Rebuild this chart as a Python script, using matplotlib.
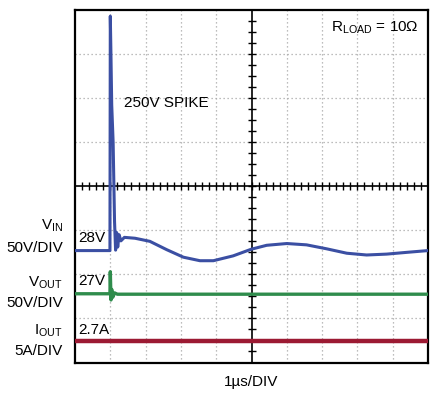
import numpy as np
import matplotlib.pyplot as plt

plt.rcParams['font.family'] = ['Liberation Sans', 'DejaVu Sans']
plt.rcParams['mathtext.fontset'] = 'custom'
plt.rcParams['mathtext.rm'] = 'Liberation Sans'
plt.rcParams['mathtext.it'] = 'Liberation Sans'

# time in divisions (1us/DIV), level in divisions from the bottom of the screen
vin_t = [0.0, 0.99, 1.0, 1.02, 1.04, 1.08, 1.12, 1.15, 1.18, 1.21, 1.25, 1.3, 1.4,
         1.7, 2.12, 2.6, 3.07, 3.54, 3.92, 4.48, 4.99, 5.43, 6.0, 6.56, 7.13,
         7.7, 8.26, 8.83, 9.4, 10.0]
vin_v = [2.54, 2.54, 7.86, 6.9, 5.85, 5.0, 3.2, 2.55, 2.95, 2.62, 2.9, 2.76, 2.84,
         2.82, 2.75, 2.56, 2.39, 2.31, 2.31, 2.42, 2.57, 2.66, 2.70, 2.67, 2.58,
         2.48, 2.44, 2.46, 2.50, 2.54]

vout_t = [0.0, 0.99, 1.0, 1.02, 1.04, 1.07, 1.12, 1.2, 10.0]
vout_v = [1.56, 1.56, 2.06, 1.42, 1.66, 1.48, 1.58, 1.55, 1.55]

iout_t = [0.0, 10.0]
iout_v = [0.48, 0.48]

c_vin = '#3b4fa3'
c_vout = '#2f8c4c'
c_iout = '#9c1a33'

fig = plt.figure(figsize=(4.31, 3.95), dpi=100)
ax = fig.add_axes([75 / 431, 1 - 362.5 / 395, 353 / 431, 352.5 / 395])
ax.set_xlim(0, 10)
ax.set_ylim(0, 8)
ax.set_xticks([])
ax.set_yticks([])
for s in ax.spines.values():
    s.set_linewidth(1.6)
    s.set_color('black')

# graticule
for gx in range(1, 10):
    if gx != 5:
        ax.axvline(gx, color='#a8a8a8', lw=0.9, ls=(0, (1, 2.2)), zorder=1)
for gy in range(1, 8):
    if gy != 4:
        ax.axhline(gy, color='#a8a8a8', lw=0.9, ls=(0, (1, 2.2)), zorder=1)
ax.axvline(5, color='black', lw=1.2, zorder=2)
ax.axhline(4, color='black', lw=1.2, zorder=2)
tx = np.arange(0.2, 10, 0.2)
ax.plot(tx, np.full(len(tx), 4.0), ls='none', marker='|', ms=6, mew=1.0, color='black', zorder=2)
ty = np.arange(0.25, 8, 0.25)
ax.plot(np.full(len(ty), 5.0), ty, ls='none', marker='_', ms=6, mew=1.0, color='black', zorder=2)

# traces
ax.plot(iout_t, iout_v, color=c_iout, lw=3.2, zorder=3)
ax.plot(vout_t, vout_v, color=c_vout, lw=2.4, zorder=3)
ax.plot(vin_t, vin_v, color=c_vin, lw=2.2, zorder=4)

fs = 11
ax.text(0.1, 2.82, '28V', fontsize=fs, va='center', ha='left')
ax.text(0.1, 1.85, '27V', fontsize=fs, va='center', ha='left')
ax.text(0.1, 0.74, '2.7A', fontsize=fs, va='center', ha='left')
ax.text(1.38, 5.9, '250V SPIKE', fontsize=fs, va='center', ha='left')
ax.text(9.75, 7.6, r'$\mathrm{R_{LOAD}}$ = 10Ω', fontsize=fs, va='center', ha='right')

lx = 63 / 431
fig.text(lx, 1 - 226 / 395, r'$\mathrm{V_{IN}}$', fontsize=fs, ha='right', va='center')
fig.text(lx, 1 - 248 / 395, '50V/DIV', fontsize=fs, ha='right', va='center')
fig.text(lx, 1 - 283 / 395, r'$\mathrm{V_{OUT}}$', fontsize=fs, ha='right', va='center')
fig.text(lx, 1 - 303 / 395, '50V/DIV', fontsize=fs, ha='right', va='center')
fig.text(lx, 1 - 331 / 395, r'$\mathrm{I_{OUT}}$', fontsize=fs, ha='right', va='center')
fig.text(lx, 1 - 351 / 395, '5A/DIV', fontsize=fs, ha='right', va='center')
fig.text(251 / 431, 1 - 382 / 395, '1µs/DIV', fontsize=fs, ha='center', va='center')

fig.savefig('out.png', dpi=100)
